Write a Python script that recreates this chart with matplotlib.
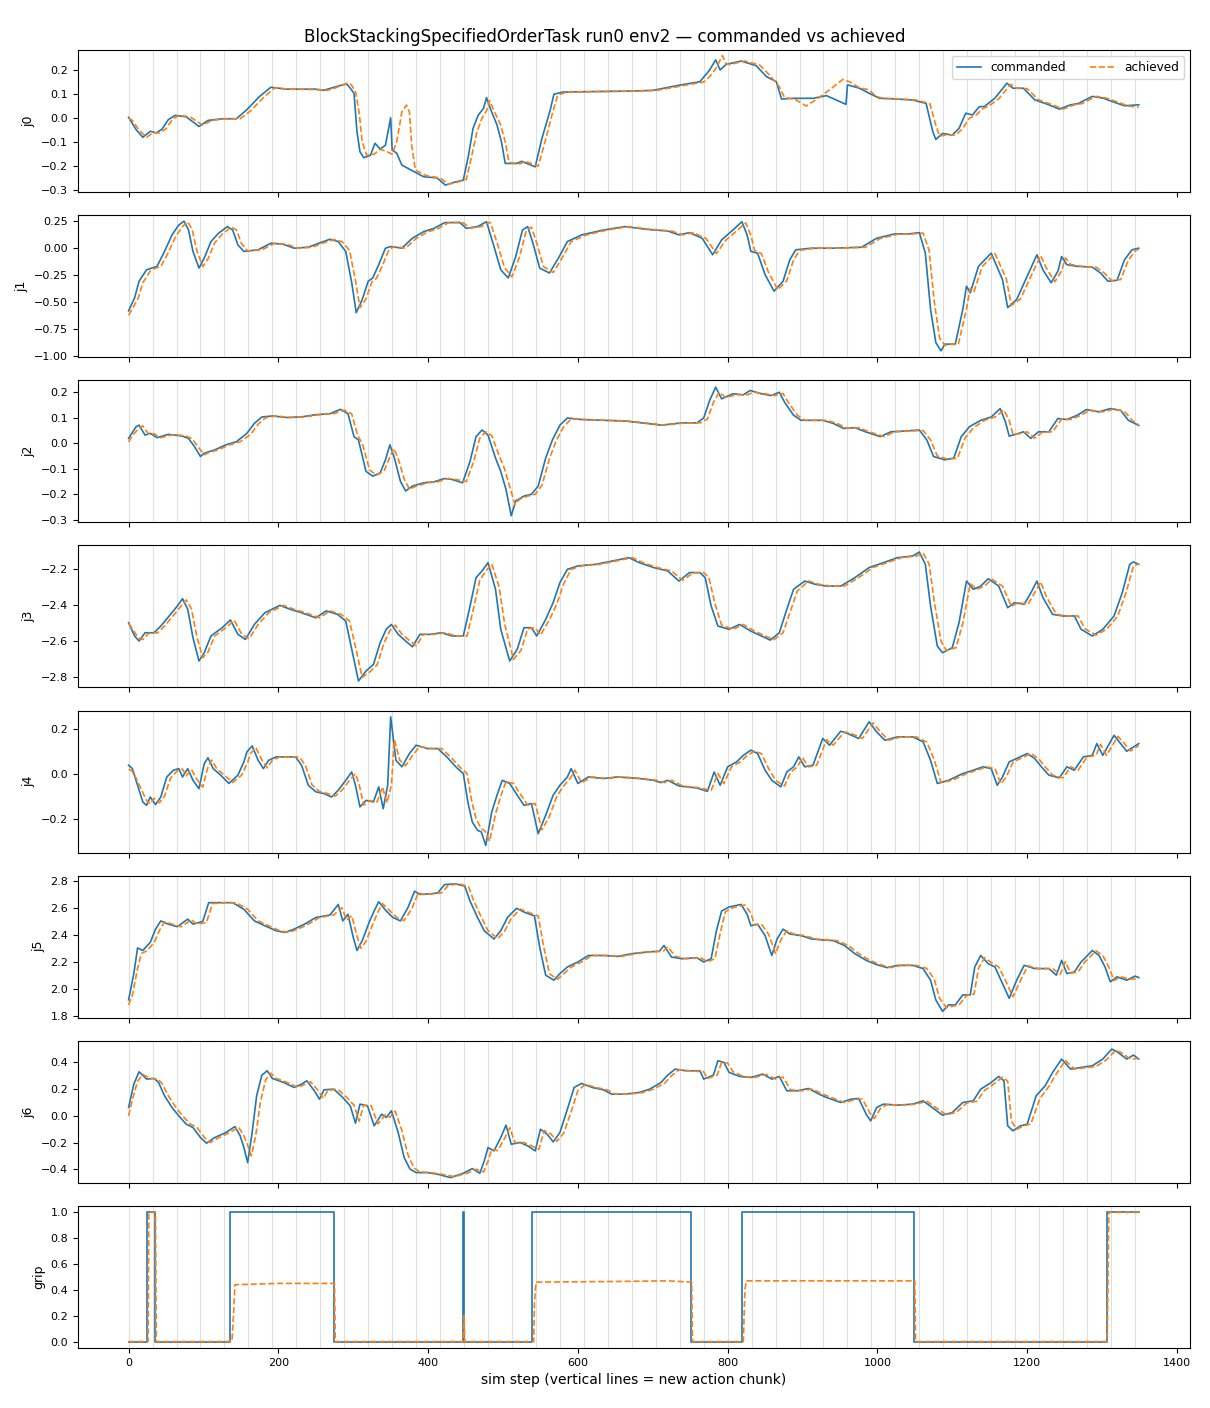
import matplotlib
matplotlib.use("Agg")
import matplotlib.pyplot as plt

TITLE = "BlockStackingSpecifiedOrderTask run0 env2 \u2014 commanded vs achieved"
XLABEL = "sim step (vertical lines = new action chunk)"
JOINT_LABELS = ["j0", "j1", "j2", "j3", "j4", "j5", "j6", "grip"]
CHUNK_LEN = 32
N_STEPS = 1350

J0_CMD = [(0,0.003),(10,-0.048),(19,-0.08),(29,-0.055),(37,-0.062),(45,-0.045),(53,-0.007),(62,0.011),(77,0.005),(94,-0.035),(106,-0.01),(125,-0.003),(144,-0.003),(158,0.035),(175,0.09),(190,0.128),(211,0.12),(250,0.12),(260,0.115),(270,0.124),(288,0.14),(292,0.14),(298,0.116),(301,0.103),(305,-0.057),(309,-0.14),(314,-0.165),(323,-0.155),(329,-0.105),(336,-0.129),(343,-0.113),(350,0.001),(352,-0.133),(358,-0.146),(365,-0.196),(380,-0.221),(394,-0.244),(412,-0.249),(423,-0.279),(434,-0.268),(447,-0.258),(454,-0.154),(460,-0.043),(467,0.0125),(474,0.04),(478,0.085),(483,0.04),(492,-0.029),(498,-0.1),(503,-0.189),(518,-0.189),(525,-0.18),(543,-0.203),(552,-0.085),(563,0.033),(568,0.099),(580,0.108),(620,0.11),(669,0.112),(700,0.115),(736,0.137),(763,0.151),(776,0.2),(784,0.242),(790,0.2),(798,0.223),(818,0.237),(838,0.218),(852,0.172),(865,0.151),(872,0.079),(887,0.082),(914,0.082),(932,0.093),(945,0.075),(958,0.057),(960,0.138),(976,0.124),(989,0.103),(1003,0.082),(1020,0.08),(1047,0.075),(1065,0.061),(1074,-0.057),(1078,-0.089),(1087,-0.064),(1100,-0.071),(1109,-0.043),(1118,0.02),(1127,0.013),(1136,0.047),(1143,0.048),(1157,0.083),(1173,0.145),(1181,0.124),(1195,0.124),(1210,0.076),(1229,0.055),(1243,0.037),(1258,0.055),(1268,0.06),(1287,0.09),(1301,0.083),(1316,0.066),(1330,0.051),(1349,0.055)]
J0_ACH = [(0,0.0),(5,-0.01),(14,-0.05),(24,-0.08),(33,-0.06),(41,-0.062),(50,-0.045),(58,-0.007),(67,0.011),(82,0.005),(99,-0.03),(111,-0.01),(130,-0.003),(149,-0.003),(163,0.03),(180,0.085),(195,0.125),(216,0.12),(255,0.118),(265,0.115),(275,0.124),(292,0.145),(297,0.14),(303,0.11),(308,0.02),(312,-0.1),(318,-0.155),(328,-0.15),(336,-0.13),(345,-0.14),(352,-0.15),(358,-0.1),(365,0.026),(371,0.054),(375,0.026),(378,-0.11),(383,-0.217),(398,-0.24),(416,-0.249),(427,-0.275),(438,-0.268),(451,-0.255),(458,-0.16),(465,-0.06),(472,0.0),(478,0.03),(482,0.073),(488,0.03),(497,-0.03),(503,-0.1),(508,-0.185),(523,-0.19),(530,-0.18),(547,-0.2),(556,-0.1),(566,0.02),(573,0.095),(585,0.108),(625,0.11),(674,0.112),(705,0.115),(741,0.135),(768,0.15),(776,0.172),(784,0.205),(789,0.235),(793,0.26),(798,0.225),(803,0.223),(823,0.237),(843,0.22),(857,0.175),(869,0.13),(876,0.085),(890,0.078),(905,0.05),(922,0.085),(936,0.117),(954,0.161),(963,0.15),(976,0.126),(989,0.117),(998,0.09),(1008,0.082),(1025,0.08),(1052,0.075),(1070,0.06),(1078,-0.03),(1083,-0.075),(1092,-0.07),(1105,-0.07),(1114,-0.043),(1123,0.0),(1132,0.013),(1141,0.04),(1148,0.048),(1162,0.08),(1178,0.14),(1186,0.124),(1200,0.122),(1215,0.076),(1234,0.055),(1248,0.037),(1263,0.055),(1273,0.06),(1292,0.09),(1306,0.083),(1321,0.066),(1335,0.05),(1349,0.045)]

J1_CMD = [(0,-0.58),(8,-0.46),(14,-0.306),(24,-0.2),(31,-0.184),(38,-0.168),(48,-0.03),(58,0.123),(67,0.214),(74,0.25),(80,0.17),(86,-0.03),(94,-0.184),(101,-0.092),(110,0.061),(120,0.138),(132,0.2),(139,0.168),(146,0.03),(154,-0.03),(173,-0.015),(190,0.046),(206,0.037),(221,0.0),(240,0.009),(254,0.046),(269,0.083),(280,0.061),(290,-0.03),(298,-0.32),(304,-0.597),(312,-0.475),(320,-0.306),(326,-0.276),(334,-0.153),(343,0.0),(350,0.015),(365,0.0),(379,0.092),(394,0.153),(408,0.184),(422,0.236),(442,0.239),(451,0.184),(466,0.2),(478,0.245),(488,0.015),(497,-0.2),(507,-0.276),(517,-0.077),(526,0.168),(533,0.2),(540,0.046),(549,-0.184),(562,-0.23),(574,-0.092),(586,0.061),(605,0.123),(634,0.168),(663,0.2),(691,0.175),(720,0.159),(735,0.123),(749,0.144),(766,0.092),(780,-0.061),(792,0.077),(807,0.168),(819,0.245),(826,0.123),(831,-0.03),(840,-0.046),(850,-0.245),(862,-0.398),(874,-0.306),(883,-0.107),(891,-0.015),(912,0.0),(941,0.0),(979,0.009),(999,0.092),(1023,0.132),(1042,0.132),(1056,0.144),(1064,-0.046),(1071,-0.567),(1078,-0.873),(1085,-0.95),(1090,-0.888),(1104,-0.888),(1114,-0.567),(1119,-0.352),(1124,-0.414),(1135,-0.168),(1152,-0.046),(1167,-0.29),(1174,-0.55),(1186,-0.475),(1200,-0.26),(1213,-0.061),(1221,-0.2),(1232,-0.32),(1241,-0.214),(1246,-0.077),(1253,-0.153),(1267,-0.168),(1287,-0.175),(1298,-0.23),(1308,-0.306),(1320,-0.297),(1330,-0.107),(1340,-0.015),(1349,0.0)]
J1_ACH = [(0,-0.62),(5,-0.56),(13,-0.46),(19,-0.32),(29,-0.21),(36,-0.185),(43,-0.17),(53,-0.04),(63,0.11),(72,0.2),(79,0.245),(85,0.17),(91,-0.02),(99,-0.17),(106,-0.1),(115,0.05),(125,0.13),(137,0.195),(144,0.17),(151,0.04),(159,-0.025),(178,-0.015),(195,0.045),(211,0.037),(226,0.0),(245,0.009),(259,0.046),(274,0.08),(285,0.061),(295,-0.02),(303,-0.3),(309,-0.55),(317,-0.47),(325,-0.31),(331,-0.28),(339,-0.16),(348,-0.01),(355,0.015),(370,0.0),(384,0.09),(399,0.15),(413,0.18),(427,0.235),(447,0.235),(456,0.185),(471,0.2),(483,0.24),(493,0.03),(502,-0.18),(512,-0.265),(522,-0.08),(531,0.16),(538,0.195),(545,0.05),(554,-0.17),(567,-0.225),(579,-0.09),(591,0.06),(610,0.12),(639,0.168),(668,0.2),(696,0.175),(725,0.159),(740,0.123),(754,0.144),(771,0.09),(785,-0.05),(797,0.07),(812,0.16),(824,0.235),(831,0.12),(836,-0.02),(845,-0.05),(855,-0.23),(867,-0.385),(879,-0.3),(888,-0.11),(896,-0.02),(917,0.0),(946,0.0),(984,0.009),(1004,0.09),(1028,0.13),(1047,0.132),(1061,0.14),(1069,-0.02),(1076,-0.5),(1083,-0.83),(1090,-0.9),(1095,-0.89),(1108,-0.89),(1119,-0.56),(1124,-0.37),(1129,-0.4),(1140,-0.17),(1157,-0.05),(1172,-0.28),(1179,-0.53),(1191,-0.47),(1205,-0.26),(1218,-0.07),(1226,-0.19),(1237,-0.31),(1246,-0.21),(1251,-0.09),(1258,-0.15),(1272,-0.168),(1292,-0.175),(1303,-0.23),(1313,-0.3),(1325,-0.29),(1335,-0.11),(1345,-0.02),(1349,-0.01)]

J2_CMD = [(0,0.019),(10,0.065),(14,0.071),(22,0.032),(29,0.039),(38,0.022),(53,0.035),(62,0.032),(72,0.028),(80,0.019),(88,-0.013),(96,-0.052),(101,-0.039),(115,-0.026),(130,-0.006),(144,0.006),(158,0.039),(168,0.078),(178,0.103),(192,0.107),(211,0.101),(230,0.103),(250,0.112),(269,0.116),(283,0.133),(293,0.116),(301,0.026),(307,0.013),(317,-0.11),(326,-0.129),(336,-0.116),(343,-0.065),(349,-0.006),(355,-0.058),(363,-0.149),(370,-0.187),(379,-0.168),(394,-0.155),(408,-0.151),(422,-0.138),(432,-0.142),(446,-0.155),(456,-0.071),(464,0.026),(472,0.052),(480,0.032),(490,-0.058),(497,-0.11),(504,-0.181),(511,-0.284),(517,-0.226),(528,-0.207),(538,-0.2),(547,-0.168),(557,-0.058),(566,0.013),(576,0.071),(586,0.099),(605,0.093),(634,0.09),(663,0.087),(691,0.078),(711,0.071),(739,0.08),(759,0.08),(768,0.099),(776,0.168),(784,0.22),(792,0.174),(807,0.194),(821,0.19),(830,0.207),(845,0.194),(858,0.187),(869,0.2),(876,0.161),(888,0.11),(898,0.09),(927,0.09),(941,0.078),(955,0.058),(970,0.061),(984,0.045),(1004,0.026),(1018,0.045),(1037,0.048),(1056,0.052),(1066,0.013),(1075,-0.052),(1090,-0.065),(1102,-0.058),(1112,0.026),(1123,0.065),(1138,0.09),(1152,0.103),(1164,0.136),(1171,0.084),(1176,0.028),(1189,0.039),(1195,0.045),(1205,0.019),(1215,0.045),(1229,0.045),(1241,0.097),(1253,0.093),(1267,0.11),(1279,0.132),(1296,0.123),(1311,0.136),(1325,0.129),(1335,0.09),(1349,0.07)]
J2_ACH = [(0,0.005),(5,0.03),(14,0.06),(19,0.068),(27,0.035),(34,0.037),(43,0.022),(58,0.033),(67,0.032),(77,0.028),(85,0.017),(93,-0.015),(101,-0.045),(106,-0.038),(120,-0.025),(135,-0.006),(149,0.006),(163,0.035),(173,0.075),(183,0.1),(197,0.107),(216,0.101),(235,0.103),(255,0.112),(274,0.116),(288,0.13),(298,0.115),(306,0.03),(312,0.0),(322,-0.105),(331,-0.125),(341,-0.11),(348,-0.06),(354,-0.02),(360,-0.06),(368,-0.14),(375,-0.18),(384,-0.168),(399,-0.155),(413,-0.151),(427,-0.138),(437,-0.142),(451,-0.15),(461,-0.07),(469,0.02),(477,0.045),(485,0.03),(495,-0.05),(502,-0.1),(509,-0.17),(516,-0.24),(522,-0.22),(533,-0.207),(543,-0.2),(552,-0.165),(562,-0.06),(571,0.01),(581,0.065),(591,0.095),(610,0.093),(639,0.09),(668,0.087),(696,0.078),(716,0.071),(744,0.08),(764,0.08),(773,0.095),(781,0.16),(789,0.2),(797,0.18),(812,0.19),(826,0.19),(835,0.2),(850,0.194),(863,0.187),(874,0.195),(881,0.16),(893,0.11),(903,0.09),(932,0.09),(946,0.078),(960,0.058),(975,0.061),(989,0.045),(1009,0.026),(1023,0.045),(1042,0.048),(1061,0.05),(1071,0.013),(1080,-0.05),(1095,-0.063),(1107,-0.058),(1117,0.02),(1128,0.06),(1143,0.09),(1157,0.103),(1169,0.13),(1176,0.09),(1181,0.035),(1194,0.039),(1200,0.045),(1210,0.02),(1220,0.043),(1234,0.045),(1246,0.095),(1258,0.093),(1272,0.11),(1284,0.13),(1301,0.123),(1316,0.134),(1330,0.125),(1340,0.09),(1349,0.072)]

J3_CMD = [(0,-2.496),(8,-2.57),(14,-2.598),(22,-2.552),(34,-2.552),(43,-2.515),(56,-2.45),(65,-2.404),(72,-2.363),(79,-2.422),(86,-2.58),(94,-2.709),(101,-2.663),(110,-2.57),(125,-2.524),(136,-2.481),(146,-2.561),(156,-2.589),(168,-2.506),(182,-2.441),(202,-2.4),(216,-2.422),(231,-2.441),(250,-2.469),(264,-2.431),(279,-2.45),(290,-2.487),(298,-2.644),(307,-2.82),(317,-2.765),(327,-2.728),(336,-2.607),(344,-2.533),(351,-2.506),(360,-2.561),(370,-2.598),(379,-2.63),(389,-2.561),(403,-2.561),(418,-2.552),(432,-2.57),(447,-2.57),(456,-2.404),(464,-2.246),(472,-2.209),(480,-2.163),(490,-2.311),(497,-2.533),(509,-2.709),(519,-2.644),(528,-2.524),(538,-2.524),(545,-2.57),(557,-2.478),(567,-2.385),(576,-2.274),(586,-2.2),(600,-2.181),(624,-2.172),(653,-2.148),(668,-2.135),(682,-2.163),(701,-2.19),(720,-2.209),(735,-2.265),(749,-2.218),(763,-2.218),(770,-2.246),(778,-2.404),(787,-2.515),(802,-2.533),(816,-2.506),(831,-2.543),(845,-2.57),(857,-2.593),(869,-2.552),(879,-2.422),(888,-2.311),(903,-2.265),(917,-2.283),(932,-2.293),(951,-2.293),(970,-2.246),(989,-2.19),(1008,-2.163),(1027,-2.135),(1047,-2.126),(1056,-2.104),(1064,-2.172),(1071,-2.404),(1080,-2.626),(1087,-2.663),(1100,-2.635),(1109,-2.496),(1119,-2.265),(1128,-2.311),(1138,-2.293),(1148,-2.252),(1162,-2.293),(1174,-2.413),(1183,-2.385),(1196,-2.394),(1205,-2.33),(1213,-2.265),(1221,-2.357),(1234,-2.45),(1248,-2.459),(1263,-2.459),(1272,-2.533),(1287,-2.57),(1301,-2.533),(1316,-2.459),(1327,-2.33),(1337,-2.172),(1342,-2.159),(1349,-2.172)]
J3_ACH = [(0,-2.5),(5,-2.53),(13,-2.58),(19,-2.59),(27,-2.555),(39,-2.552),(48,-2.515),(61,-2.45),(70,-2.404),(77,-2.37),(84,-2.42),(91,-2.57),(99,-2.69),(106,-2.66),(115,-2.57),(130,-2.524),(141,-2.483),(151,-2.56),(161,-2.585),(173,-2.506),(187,-2.441),(207,-2.4),(221,-2.422),(236,-2.441),(255,-2.469),(269,-2.431),(284,-2.45),(295,-2.487),(303,-2.63),(312,-2.8),(322,-2.77),(332,-2.73),(341,-2.61),(349,-2.54),(356,-2.51),(365,-2.56),(375,-2.595),(384,-2.625),(394,-2.561),(408,-2.561),(423,-2.552),(437,-2.57),(452,-2.57),(461,-2.41),(469,-2.26),(477,-2.21),(485,-2.17),(495,-2.3),(502,-2.5),(514,-2.7),(524,-2.65),(533,-2.53),(543,-2.524),(550,-2.565),(562,-2.48),(572,-2.39),(581,-2.28),(591,-2.2),(605,-2.181),(629,-2.172),(658,-2.148),(673,-2.135),(687,-2.163),(706,-2.19),(725,-2.209),(740,-2.26),(754,-2.22),(768,-2.218),(775,-2.246),(783,-2.39),(792,-2.51),(807,-2.533),(821,-2.506),(836,-2.543),(850,-2.57),(862,-2.59),(874,-2.552),(884,-2.43),(893,-2.32),(908,-2.265),(922,-2.283),(937,-2.293),(956,-2.293),(975,-2.246),(994,-2.19),(1013,-2.163),(1032,-2.135),(1052,-2.126),(1061,-2.11),(1069,-2.17),(1076,-2.38),(1085,-2.6),(1092,-2.65),(1105,-2.635),(1114,-2.5),(1124,-2.28),(1133,-2.31),(1143,-2.293),(1153,-2.255),(1167,-2.293),(1179,-2.405),(1188,-2.385),(1201,-2.394),(1210,-2.33),(1218,-2.27),(1226,-2.355),(1239,-2.45),(1253,-2.459),(1268,-2.459),(1277,-2.53),(1292,-2.565),(1306,-2.533),(1321,-2.459),(1332,-2.33),(1342,-2.18),(1349,-2.17)]

J4_CMD = [(0,0.037),(5,0.022),(12,-0.052),(19,-0.126),(24,-0.141),(29,-0.104),(36,-0.138),(43,-0.104),(51,-0.015),(60,0.015),(67,0.022),(72,-0.015),(79,0.022),(86,-0.03),(94,-0.067),(101,0.044),(106,0.07),(113,0.022),(123,-0.007),(134,-0.044),(146,-0.007),(154,0.052),(158,0.096),(165,0.123),(173,0.059),(180,0.022),(187,0.059),(197,0.074),(223,0.074),(231,0.037),(240,-0.052),(250,-0.081),(261,-0.089),(271,-0.104),(280,-0.074),(290,-0.03),(298,0.007),(303,-0.052),(309,-0.148),(317,-0.119),(327,-0.126),(334,-0.059),(340,-0.156),(346,-0.052),(350,0.252),(357,0.059),(365,0.03),(375,0.089),(384,0.126),(399,0.111),(413,0.111),(425,0.074),(437,0.03),(447,0.0),(453,-0.126),(459,-0.215),(466,-0.252),(471,-0.259),(477,-0.319),(485,-0.17),(492,-0.096),(499,-0.03),(509,-0.044),(519,-0.096),(528,-0.141),(538,-0.133),(547,-0.267),(557,-0.185),(567,-0.096),(576,-0.052),(586,-0.015),(591,0.022),(600,-0.044),(614,-0.015),(634,-0.022),(653,-0.015),(682,-0.022),(701,-0.03),(711,-0.04),(720,-0.03),(735,-0.055),(759,-0.064),(773,-0.079),(782,0.007),(790,-0.052),(800,0.03),(812,0.052),(821,0.081),(831,0.104),(840,0.089),(850,0.015),(859,-0.03),(871,-0.059),(879,0.007),(888,0.03),(895,0.074),(903,0.03),(914,0.037),(927,0.156),(936,0.126),(951,0.188),(960,0.178),(975,0.156),(989,0.23),(999,0.185),(1010,0.148),(1027,0.163),(1047,0.163),(1061,0.141),(1071,0.059),(1080,-0.044),(1095,-0.03),(1114,0.0),(1128,0.015),(1141,0.03),(1152,0.022),(1160,-0.052),(1167,-0.015),(1176,0.052),(1186,0.067),(1200,0.089),(1210,0.067),(1219,0.03),(1229,-0.007),(1243,-0.019),(1253,0.03),(1263,0.015),(1275,0.074),(1287,0.081),(1293,0.133),(1301,0.081),(1316,0.17),(1323,0.141),(1333,0.099),(1349,0.133)]
J4_ACH = [(0,0.02),(5,0.01),(10,-0.02),(17,-0.07),(24,-0.12),(29,-0.135),(34,-0.11),(41,-0.13),(48,-0.1),(56,-0.02),(65,0.012),(72,0.02),(77,-0.01),(84,0.018),(91,-0.025),(99,-0.06),(106,0.03),(111,0.06),(118,0.02),(128,-0.007),(139,-0.04),(151,-0.007),(159,0.05),(163,0.09),(170,0.115),(178,0.06),(185,0.025),(192,0.059),(202,0.074),(228,0.074),(236,0.037),(245,-0.05),(255,-0.08),(266,-0.089),(276,-0.1),(285,-0.074),(295,-0.03),(303,0.0),(308,-0.05),(314,-0.14),(322,-0.12),(332,-0.125),(339,-0.06),(345,-0.13),(351,-0.05),(355,0.15),(362,0.06),(370,0.035),(380,0.085),(389,0.12),(404,0.111),(418,0.111),(430,0.074),(442,0.03),(452,0.0),(458,-0.12),(464,-0.2),(471,-0.245),(476,-0.255),(482,-0.3),(490,-0.18),(497,-0.1),(504,-0.035),(514,-0.044),(524,-0.096),(533,-0.14),(543,-0.133),(552,-0.25),(562,-0.19),(572,-0.1),(581,-0.055),(591,-0.015),(596,0.015),(605,-0.04),(619,-0.015),(639,-0.022),(658,-0.015),(687,-0.022),(706,-0.03),(716,-0.04),(725,-0.03),(740,-0.055),(764,-0.064),(778,-0.075),(787,0.0),(795,-0.045),(805,0.03),(817,0.052),(826,0.08),(836,0.1),(845,0.089),(855,0.02),(864,-0.03),(876,-0.055),(884,0.005),(893,0.03),(900,0.07),(908,0.03),(919,0.037),(932,0.15),(941,0.126),(956,0.185),(965,0.178),(980,0.156),(994,0.225),(1004,0.185),(1015,0.148),(1032,0.163),(1052,0.163),(1066,0.14),(1076,0.06),(1085,-0.04),(1100,-0.03),(1119,0.0),(1133,0.015),(1146,0.03),(1157,0.022),(1165,-0.045),(1172,-0.015),(1181,0.05),(1191,0.067),(1205,0.089),(1215,0.067),(1224,0.03),(1234,-0.007),(1248,-0.019),(1258,0.03),(1268,0.015),(1280,0.074),(1292,0.081),(1298,0.13),(1306,0.081),(1321,0.165),(1328,0.141),(1338,0.1),(1349,0.125)]

J5_CMD = [(0,1.917),(7,2.112),(12,2.302),(19,2.283),(29,2.344),(36,2.441),(43,2.502),(53,2.478),(65,2.459),(79,2.515),(86,2.478),(99,2.498),(107,2.637),(125,2.637),(139,2.637),(154,2.588),(168,2.502),(182,2.466),(197,2.429),(209,2.417),(221,2.441),(235,2.478),(250,2.527),(269,2.546),(280,2.624),(286,2.502),(293,2.551),(300,2.38),(305,2.283),(312,2.356),(322,2.502),(328,2.576),(334,2.644),(344,2.576),(353,2.527),(363,2.502),(373,2.6),(382,2.722),(389,2.698),(403,2.702),(413,2.71),(422,2.771),(437,2.776),(449,2.759),(456,2.649),(466,2.527),(475,2.429),(488,2.368),(497,2.429),(506,2.527),(518,2.595),(530,2.563),(542,2.539),(549,2.307),(557,2.1),(568,2.063),(576,2.112),(586,2.161),(600,2.198),(614,2.246),(634,2.246),(653,2.239),(672,2.259),(691,2.271),(709,2.278),(715,2.32),(725,2.234),(739,2.222),(759,2.229),(768,2.198),(778,2.222),(785,2.429),(792,2.576),(802,2.605),(818,2.624),(826,2.551),(831,2.466),(840,2.478),(850,2.393),(859,2.246),(866,2.368),(874,2.441),(883,2.405),(898,2.393),(912,2.368),(927,2.361),(941,2.356),(956,2.32),(970,2.259),(985,2.21),(999,2.178),(1013,2.156),(1027,2.173),(1047,2.173),(1061,2.149),(1071,2.063),(1078,1.917),(1087,1.832),(1095,1.88),(1104,1.88),(1114,1.954),(1124,1.954),(1130,2.161),(1138,2.246),(1148,2.185),(1157,2.161),(1167,2.039),(1176,1.929),(1186,2.063),(1196,2.173),(1210,2.149),(1229,2.149),(1239,2.1),(1246,2.21),(1253,2.112),(1263,2.124),(1272,2.198),(1287,2.283),(1296,2.246),(1304,2.161),(1311,2.051),(1320,2.088),(1333,2.063),(1344,2.093),(1349,2.083)]
J5_ACH = [(0,1.88),(5,1.95),(12,2.15),(17,2.26),(24,2.28),(34,2.34),(41,2.43),(48,2.495),(58,2.478),(70,2.459),(84,2.51),(91,2.478),(104,2.49),(112,2.63),(130,2.637),(144,2.635),(159,2.588),(173,2.502),(187,2.466),(202,2.429),(214,2.417),(226,2.441),(240,2.478),(255,2.527),(274,2.546),(285,2.6),(291,2.51),(298,2.54),(305,2.39),(310,2.3),(317,2.35),(327,2.49),(333,2.57),(339,2.63),(349,2.576),(358,2.527),(368,2.505),(378,2.59),(387,2.71),(394,2.698),(408,2.702),(418,2.71),(427,2.765),(442,2.776),(454,2.755),(461,2.65),(471,2.53),(480,2.43),(493,2.37),(502,2.425),(511,2.52),(523,2.59),(535,2.563),(547,2.539),(554,2.32),(562,2.11),(573,2.07),(581,2.11),(591,2.16),(605,2.198),(619,2.246),(639,2.246),(658,2.239),(677,2.259),(696,2.271),(714,2.278),(720,2.31),(730,2.24),(744,2.222),(764,2.229),(773,2.2),(783,2.222),(790,2.41),(797,2.57),(807,2.6),(823,2.62),(831,2.56),(836,2.47),(845,2.478),(855,2.4),(864,2.26),(871,2.36),(879,2.43),(888,2.405),(903,2.393),(917,2.368),(932,2.361),(946,2.356),(961,2.32),(975,2.259),(990,2.21),(1004,2.178),(1018,2.156),(1032,2.173),(1052,2.173),(1066,2.15),(1076,2.07),(1083,1.93),(1092,1.86),(1100,1.87),(1109,1.88),(1119,1.95),(1129,1.96),(1135,2.15),(1143,2.23),(1153,2.19),(1162,2.161),(1172,2.05),(1181,1.94),(1191,2.06),(1201,2.17),(1215,2.149),(1234,2.149),(1244,2.105),(1251,2.2),(1258,2.115),(1268,2.124),(1277,2.198),(1292,2.28),(1301,2.246),(1309,2.16),(1316,2.06),(1325,2.088),(1338,2.07),(1349,2.075)]

J6_CMD = [(0,0.0625),(7,0.2375),(14,0.33),(24,0.275),(34,0.28),(40,0.25),(48,0.15),(58,0.0625),(67,0.0),(77,-0.0625),(86,-0.0875),(96,-0.1625),(104,-0.205),(115,-0.1625),(130,-0.125),(142,-0.08),(149,-0.15),(154,-0.2375),(159,-0.35),(165,-0.125),(171,0.15),(178,0.305),(185,0.3375),(192,0.28),(207,0.25),(221,0.2125),(231,0.2375),(238,0.2625),(248,0.1875),(255,0.125),(261,0.195),(274,0.2),(286,0.1375),(296,0.075),(303,-0.055),(309,0.0875),(319,0.075),(328,-0.075),(338,0.0125),(344,-0.0125),(351,0.0375),(360,-0.125),(368,-0.3125),(376,-0.4),(384,-0.425),(399,-0.425),(413,-0.4375),(430,-0.4625),(447,-0.43),(459,-0.395),(469,-0.43),(475,-0.3375),(480,-0.2375),(488,-0.2625),(497,-0.1625),(504,-0.07),(511,-0.2125),(523,-0.2),(533,-0.225),(543,-0.2625),(550,-0.1),(559,-0.1375),(567,-0.195),(576,-0.125),(586,0.05),(595,0.2125),(605,0.2425),(619,0.2125),(634,0.195),(645,0.1625),(663,0.1625),(682,0.175),(696,0.2),(711,0.25),(720,0.305),(730,0.35),(744,0.3375),(763,0.3375),(768,0.275),(781,0.305),(787,0.4125),(795,0.4),(802,0.325),(816,0.295),(831,0.2875),(847,0.3125),(859,0.275),(869,0.295),(879,0.1875),(893,0.1875),(908,0.205),(922,0.1625),(932,0.1375),(951,0.1),(965,0.125),(975,0.13),(985,0.0125),(991,-0.0375),(999,0.0625),(1008,0.0875),(1027,0.08),(1047,0.0875),(1061,0.1125),(1076,0.05),(1087,0.005),(1100,0.025),(1114,0.1),(1128,0.1125),(1138,0.2),(1152,0.25),(1162,0.295),(1169,0.2625),(1174,-0.075),(1181,-0.1125),(1191,-0.075),(1200,-0.0625),(1212,0.15),(1224,0.225),(1234,0.325),(1246,0.425),(1258,0.35),(1272,0.3625),(1287,0.375),(1301,0.425),(1313,0.5),(1320,0.48),(1333,0.425),(1342,0.455),(1349,0.425)]
J6_ACH = [(0,0.0),(5,0.12),(12,0.26),(19,0.31),(29,0.28),(39,0.275),(45,0.24),(53,0.15),(63,0.065),(72,0.0),(82,-0.06),(91,-0.085),(101,-0.16),(109,-0.2),(120,-0.165),(135,-0.125),(147,-0.085),(154,-0.15),(159,-0.22),(164,-0.3),(170,-0.14),(176,0.1),(183,0.27),(190,0.32),(197,0.28),(212,0.25),(226,0.2125),(236,0.2375),(243,0.255),(253,0.19),(260,0.13),(266,0.19),(279,0.2),(291,0.14),(301,0.08),(308,-0.04),(314,0.08),(324,0.075),(333,-0.06),(343,0.01),(349,-0.01),(356,0.035),(365,-0.11),(373,-0.29),(381,-0.39),(389,-0.42),(404,-0.425),(418,-0.4375),(435,-0.455),(452,-0.43),(464,-0.4),(474,-0.42),(480,-0.34),(485,-0.25),(493,-0.26),(502,-0.17),(509,-0.09),(516,-0.2),(528,-0.2),(538,-0.225),(548,-0.25),(555,-0.11),(564,-0.135),(572,-0.19),(581,-0.13),(591,0.03),(600,0.19),(610,0.235),(624,0.2125),(639,0.195),(650,0.1625),(668,0.1625),(687,0.175),(701,0.2),(716,0.245),(725,0.3),(735,0.345),(749,0.3375),(768,0.33),(773,0.28),(786,0.305),(792,0.4),(800,0.395),(807,0.33),(821,0.295),(836,0.2875),(852,0.31),(864,0.275),(874,0.29),(884,0.195),(898,0.1875),(913,0.2),(927,0.1625),(937,0.14),(956,0.1),(970,0.122),(980,0.125),(990,0.02),(996,-0.02),(1004,0.055),(1013,0.085),(1032,0.08),(1052,0.0875),(1066,0.11),(1081,0.05),(1092,0.008),(1105,0.025),(1119,0.095),(1133,0.11),(1143,0.19),(1157,0.245),(1167,0.29),(1174,0.26),(1179,-0.04),(1186,-0.1),(1196,-0.075),(1205,-0.06),(1217,0.13),(1229,0.22),(1239,0.315),(1251,0.415),(1263,0.35),(1277,0.36),(1292,0.37),(1306,0.42),(1318,0.49),(1325,0.475),(1338,0.425),(1349,0.43)]

GRIP_CMD = [(0,0),(24,0),(24,1),(35,1),(35,0),(136,0),(136,1),(274,1),(274,0),(446,0),(446,1),(448,1),(448,0),(539,0),(539,1),(751,1),(751,0),(819,0),(819,1),(1049,1),(1049,0),(1306,0),(1306,1),(1349,1)]
GRIP_ACH = [(0,0),(26,0),(27,1),(36,1),(37,0),(138,0),(140,0.2),(142,0.44),(200,0.45),(275,0.45),(276,0),(447,0),(448,0.2),(449,0),(541,0),(542,0.3),(544,0.46),(650,0.465),(720,0.47),(752,0.46),(753,0),(821,0),(823,0.4),(825,0.47),(1050,0.47),(1051,0),(1307,0),(1309,1),(1349,1)]

SERIES = [(J0_CMD, J0_ACH), (J1_CMD, J1_ACH), (J2_CMD, J2_ACH), (J3_CMD, J3_ACH),
          (J4_CMD, J4_ACH), (J5_CMD, J5_ACH), (J6_CMD, J6_ACH), (GRIP_CMD, GRIP_ACH)]
YLIMS = [(-0.308, 0.283), (-1.009, 0.306), (-0.31, 0.247), (-2.856, -2.067),
         (-0.351, 0.28), (1.785, 2.837), (-0.502, 0.562), (-0.05, 1.05)]

fig, axes = plt.subplots(8, 1, figsize=(12.1, 14.08), dpi=100, sharex=True)
fig.subplots_adjust(left=0.0645, right=0.9835, top=0.9645, bottom=0.0426, hspace=0.162)

chunk_starts = list(range(0, N_STEPS, CHUNK_LEN))
for ax, (cmd, ach), lab, yl in zip(axes, SERIES, JOINT_LABELS, YLIMS):
    for c in chunk_starts:
        ax.axvline(c, color="gray", alpha=0.25, linewidth=0.8, zorder=0)
    cx, cy = zip(*cmd)
    axx, ay = zip(*ach)
    ax.plot(cx, cy, color="#1f77b4", linewidth=1.2, label="commanded")
    ax.plot(axx, ay, color="#ff7f0e", linewidth=1.2, linestyle="--", label="achieved")
    ax.set_ylabel(lab, fontsize=9)
    ax.set_ylim(*yl)
    ax.tick_params(labelsize=8)

axes[0].set_xlim(-67.5, 1417.5)
axes[0].legend(loc="upper right", ncol=2, fontsize=8.7)
axes[-1].set_xlabel(XLABEL, fontsize=10)
fig.suptitle(TITLE, fontsize=12, y=0.980)

fig.savefig("out.png", dpi=100)
